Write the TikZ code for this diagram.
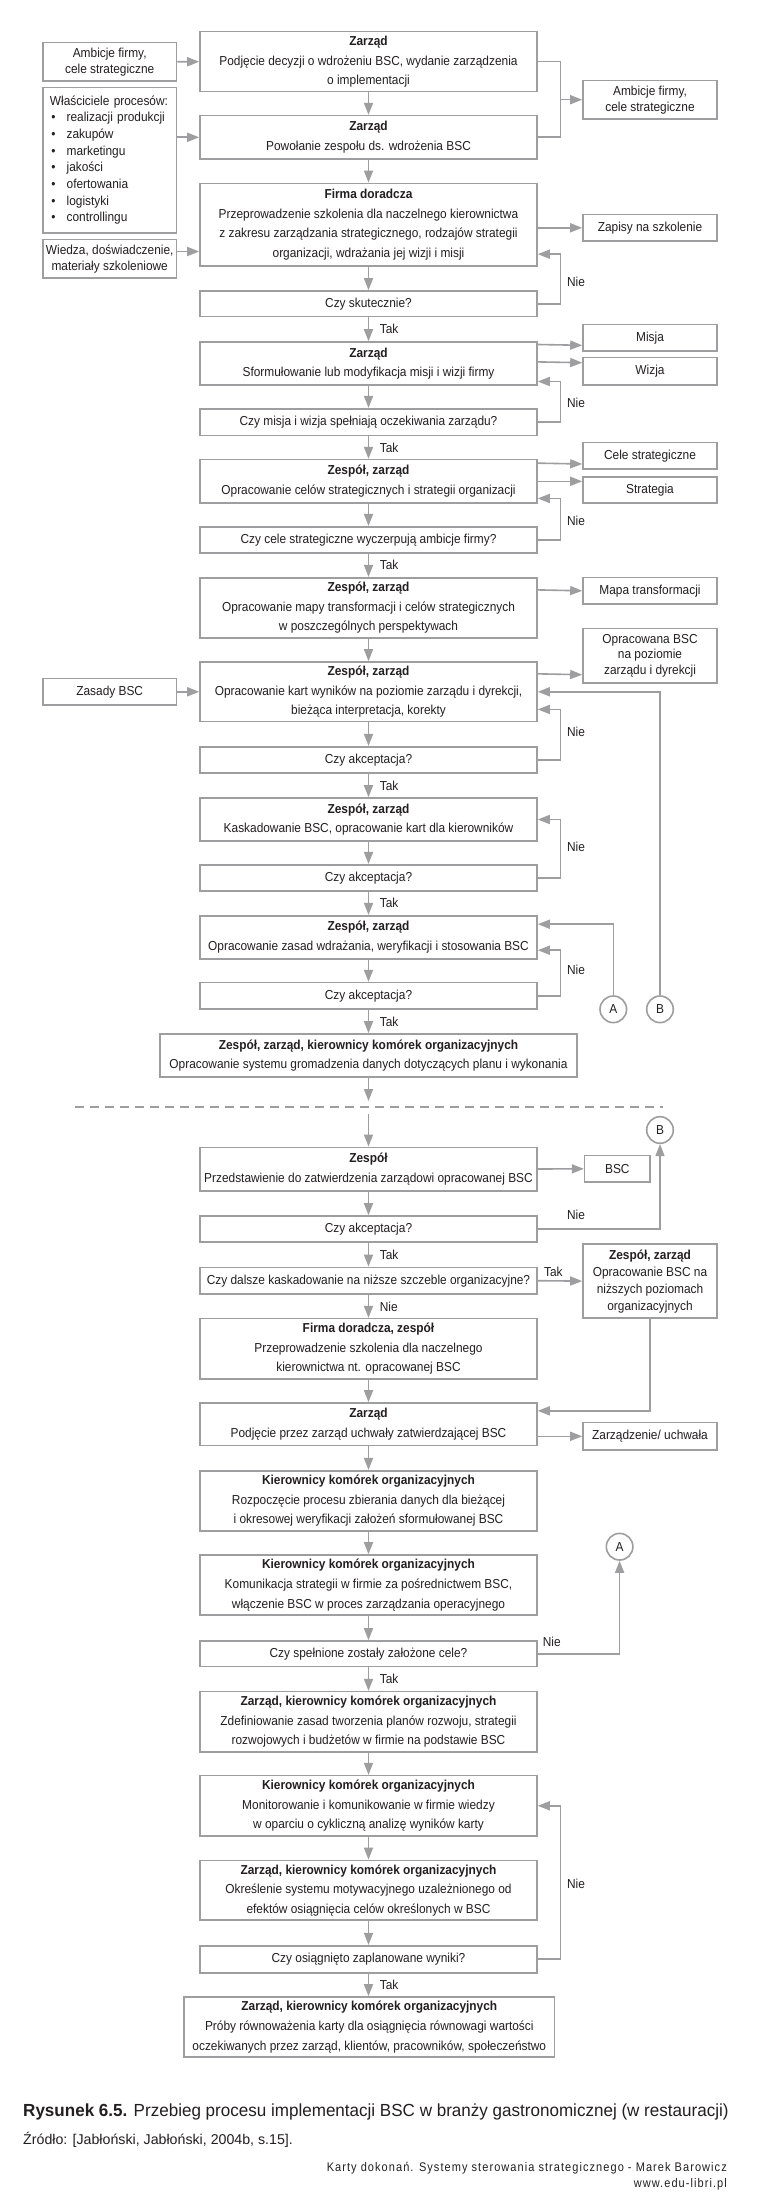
\documentclass[tikz,border=0pt]{standalone}
\usepackage{fontspec}
\setmainfont{Liberation Sans}[FakeStretch=0.915]
\newfontfamily\footfont{Liberation Sans}[FakeStretch=0.88,LetterSpace=8.5]
\newfontfamily\capfont{Liberation Sans}[FakeStretch=0.974]
\newfontfamily\srcfont{Liberation Sans}[FakeStretch=1.0]
\usetikzlibrary{arrows.meta,calc}
\definecolor{lg}{RGB}{158,158,160}
\definecolor{tx}{RGB}{35,31,32}
\begin{document}
\begin{tikzpicture}[x=1pt,y=-1pt,
  box/.style={draw=lg, line width=1.6pt, fill=white, inner sep=0pt, align=center, text=tx, font=\fontsize{13}{19.6}\selectfont},
  mbox/.style={box, minimum width=337pt},
  sbox/.style={box, minimum width=134pt, font=\fontsize{13}{16}\selectfont},
  lboxs/.style={box, minimum width=133.5pt, font=\fontsize{13}{16}\selectfont},
  conn/.style={draw=lg, line width=1.6pt},
  arr/.style={conn, -{Triangle[length=12pt,width=9pt]}},
  lbl/.style={text=tx, font=\fontsize{13}{15}\selectfont, inner sep=0pt},
  circ/.style={circle, draw=lg, line width=1.6pt, fill=white, minimum size=26.6pt, inner sep=0pt, text=tx, font=\fontsize{13}{15}\selectfont},
]
\fill[white] (0,0) rectangle (757,2210);
\useasboundingbox (0,0) rectangle (757,2210);
\coordinate (lx) at (560.5,0);

% ---------- main column ----------
\node[mbox, minimum height=60pt] (n1) at (368.5,61.7) {\textbf{Zarząd}\\Podjęcie decyzji o wdrożeniu BSC, wydanie zarządzenia\\o implementacji};
\node[mbox, minimum height=43.3pt] (n2) at (368.5,137.3) {\textbf{Zarząd}\\Powołanie zespołu ds. wdrożenia BSC};
\node[mbox, minimum height=82.7pt] (n3) at (368.5,224.7) {\textbf{Firma doradcza}\\Przeprowadzenie szkolenia dla naczelnego kierownictwa\\z zakresu zarządzania strategicznego, rodzajów strategii\\organizacji, wdrażania jej wizji i misji};
\node[mbox, minimum height=25.7pt] (q1) at (368.5,303.8) {Czy skutecznie?};
\node[mbox, minimum height=43pt] (n5) at (368.5,363.5) {\textbf{Zarząd}\\Sformułowanie lub modyfikacja misji i wizji firmy};
\node[mbox, minimum height=26.6pt] (q2) at (368.5,422) {Czy misja i wizja spełniają oczekiwania zarządu?};
\node[mbox, minimum height=43.3pt] (n7) at (368.5,481.3) {\textbf{Zespół, zarząd}\\Opracowanie celów strategicznych i strategii organizacji};
\node[mbox, minimum height=26pt] (q3) at (368.5,539.7) {Czy cele strategiczne wyczerpują ambicje firmy?};
\node[mbox, minimum height=60pt] (n9) at (368.5,607.7) {\textbf{Zespół, zarząd}\\Opracowanie mapy transformacji i celów strategicznych\\w poszczególnych perspektywach};
\node[mbox, minimum height=59.7pt] (n10) at (368.5,691.8) {\textbf{Zespół, zarząd}\\Opracowanie kart wyników na poziomie zarządu i dyrekcji,\\bieżąca interpretacja, korekty};
\node[mbox, minimum height=26pt] (q4) at (368.5,759.7) {Czy akceptacja?};
\node[mbox, minimum height=43pt] (n12) at (368.5,819.5) {\textbf{Zespół, zarząd}\\Kaskadowanie BSC, opracowanie kart dla kierowników};
\node[mbox, minimum height=26pt] (q5) at (368.5,877.7) {Czy akceptacja?};
\node[mbox, minimum height=43pt] (n14) at (368.5,937.2) {\textbf{Zespół, zarząd}\\Opracowanie zasad wdrażania, weryfikacji i stosowania BSC};
\node[mbox, minimum height=26.3pt] (q6) at (368.5,995.8) {Czy akceptacja?};
\node[box, minimum width=416.7pt, minimum height=43pt] (n16) at (368.5,1055.5) {\textbf{Zespół, zarząd, kierownicy komórek organizacyjnych}\\Opracowanie systemu gromadzenia danych dotyczących planu i wykonania};

\coordinate (d1) at (368.5,1101);
\coordinate (dl) at (75,1106.7);
\coordinate (dr) at (663,1106.7);
\coordinate (d2) at (368.5,1114);

\node[mbox, minimum height=43.4pt] (n17) at (368.5,1169) {\textbf{Zespół}\\Przedstawienie do zatwierdzenia zarządowi opracowanej BSC};
\node[mbox, minimum height=26pt] (q7) at (368.5,1229) {Czy akceptacja?};
\node[mbox, minimum height=26.7pt] (q8) at (368.5,1280.7) {Czy dalsze kaskadowanie na niższe szczeble organizacyjne?};
\node[mbox, minimum height=60.3pt] (n20) at (368.5,1348.8) {\textbf{Firma doradcza, zespół}\\Przeprowadzenie szkolenia dla naczelnego\\kierownictwa nt. opracowanej BSC};
\node[mbox, minimum height=42.7pt] (n21) at (368.5,1424.3) {\textbf{Zarząd}\\Podjęcie przez zarząd uchwały zatwierdzającej BSC};
\node[mbox, minimum height=60pt] (n22) at (368.5,1500.7) {\textbf{Kierownicy komórek organizacyjnych}\\Rozpoczęcie procesu zbierania danych dla bieżącej\\i okresowej weryfikacji założeń sformułowanej BSC};
\node[mbox, minimum height=60pt] (n23) at (368.5,1585) {\textbf{Kierownicy komórek organizacyjnych}\\Komunikacja strategii w firmie za pośrednictwem BSC,\\włączenie BSC w proces zarządzania operacyjnego};
\node[mbox, minimum height=25.7pt] (q9) at (368.5,1653.8) {Czy spełnione zostały założone cele?};
\node[mbox, minimum height=60.3pt] (n25) at (368.5,1721.8) {\textbf{Zarząd, kierownicy komórek organizacyjnych}\\Zdefiniowanie zasad tworzenia planów rozwoju, strategii\\rozwojowych i budżetów w firmie na podstawie BSC};
\node[mbox, minimum height=60.3pt] (n26) at (368.5,1805.8) {\textbf{Kierownicy komórek organizacyjnych}\\Monitorowanie i komunikowanie w firmie wiedzy\\w oparciu o cykliczną analizę wyników karty};
\node[mbox, minimum height=59.7pt] (n27) at (368.5,1890.2) {\textbf{Zarząd, kierownicy komórek organizacyjnych}\\Określenie systemu motywacyjnego uzależnionego od\\efektów osiągnięcia celów określonych w BSC};
\node[mbox, minimum height=27pt] (q10) at (368.5,1959.2) {Czy osiągnięto zaplanowane wyniki?};
\node[box, minimum width=370.7pt, minimum height=60pt] (n29) at (369.3,2027) {\textbf{Zarząd, kierownicy komórek organizacyjnych}\\Próby równoważenia karty dla osiągnięcia równowagi wartości\\oczekiwanych przez zarząd, klientów, pracowników, społeczeństwo};

% ---------- right boxes ----------
\node[sbox, minimum height=38.7pt] (r1) at (650,99.7) {Ambicje firmy,\\cele strategiczne};
\node[sbox, minimum height=26.3pt] (r2) at (650,227.8) {Zapisy na szkolenie};
\node[sbox, minimum height=26.3pt] (r3) at (650,337.8) {Misja};
\node[sbox, minimum height=27.3pt] (r4) at (650,371.3) {Wizja};
\node[sbox, minimum height=26.3pt] (r5) at (650,455.8) {Cele strategiczne};
\node[sbox, minimum height=26pt] (r6) at (650,490) {Strategia};
\node[sbox, minimum height=26.3pt] (r7) at (650,590.8) {Mapa transformacji};
\node[sbox, minimum height=54.4pt, font=\fontsize{13}{15.5}\selectfont] (r8) at (650,655.5) {Opracowana BSC\\na poziomie\\zarządu i dyrekcji};
\node[sbox, minimum width=65.3pt, minimum height=26.3pt] (r9) at (617.3,1168.8) {BSC};
\node[sbox, minimum height=74.3pt, font=\fontsize{13}{17}\selectfont] (r10) at (650,1281.1) {\textbf{Zespół, zarząd}\\Opracowanie BSC na\\niższych poziomach\\organizacyjnych};
\node[sbox, minimum height=27.3pt] (r11) at (650,1436.3) {Zarządzenie/ uchwała};

% ---------- left boxes ----------
\node[lboxs, minimum height=38.3pt] (l1) at (109.7,61.8) {Ambicje firmy,\\cele strategiczne};
\node[lboxs, minimum height=145pt, text width=119.5pt, inner xsep=7pt, align=left, font=\fontsize{13}{16.67}\selectfont] (l2) at (109.7,160.2) {Właściciele procesów:\\
\hspace*{1.5pt}\makebox[15.2pt][l]{\textbullet}realizacji produkcji\\
\hspace*{1.5pt}\makebox[15.2pt][l]{\textbullet}zakupów\\
\hspace*{1.5pt}\makebox[15.2pt][l]{\textbullet}marketingu\\
\hspace*{1.5pt}\makebox[15.2pt][l]{\textbullet}jakości\\
\hspace*{1.5pt}\makebox[15.2pt][l]{\textbullet}ofertowania\\
\hspace*{1.5pt}\makebox[15.2pt][l]{\textbullet}logistyki\\
\hspace*{1.5pt}\makebox[15.2pt][l]{\textbullet}controllingu};
\node[lboxs, minimum height=38.7pt] (l3) at (109.7,258.7) {Wiedza, doświadczenie,\\materiały szkoleniowe};
\node[lboxs, minimum height=26.3pt] (l4) at (109.7,691.8) {Zasady BSC};

% ---------- connectors circles ----------
\node[circ] (cA1) at (613.3,1009.3) {A};
\node[circ] (cB1) at (660,1009.3) {B};
\node[circ] (cB2) at (660,1130) {B};
\node[circ] (cA2) at (619.6,1546.7) {A};

% ---------- vertical flow ----------
\draw[arr] (n1) -- (n2);
\draw[arr] (n2) -- (n3);
\draw[arr] (n3) -- (q1);
\draw[arr] (q1) -- node[lbl, right=10.5pt] {Tak} (n5);
\draw[arr] (n5) -- (q2);
\draw[arr] (q2) -- node[lbl, right=10.5pt] {Tak} (n7);
\draw[arr] (n7) -- (q3);
\draw[arr] (q3) -- node[lbl, right=10.5pt] {Tak} (n9);
\draw[arr] (n9) -- (n10);
\draw[arr] (n10) -- (q4);
\draw[arr] (q4) -- node[lbl, right=10.5pt] {Tak} (n12);
\draw[arr] (n12) -- (q5);
\draw[arr] (q5) -- node[lbl, right=10.5pt] {Tak} (n14);
\draw[arr] (n14) -- (q6);
\draw[arr] (q6) -- node[lbl, right=10.5pt] {Tak} (n16);
\draw[arr] (n16) -- (d1);
\draw[conn, dash pattern=on 9pt off 6pt] (dl) -- (dr);
\draw[arr] (d2) -- (n17);
\draw[arr] (n17) -- (q7);
\draw[arr] (q7) -- node[lbl, right=10.5pt] {Tak} (q8);
\draw[arr] (q8) -- node[lbl, right=10.5pt] {Nie} (n20);
\draw[arr] (n20) -- (n21);
\draw[arr] (n21) -- (n22);
\draw[arr] (n22) -- (n23);
\draw[arr] (n23) -- (q9);
\draw[arr] (q9) -- node[lbl, right=10.5pt] {Tak} (n25);
\draw[arr] (n25) -- (n26);
\draw[arr] (n26) -- (n27);
\draw[arr] (n27) -- (q10);
\draw[arr] (q10.south) -- node[lbl, right=10.5pt] {Tak} (n29.north -| q10.south);

% ---------- inputs from left ----------
\draw[arr] (l1.east) -- (n1.west);
\draw[arr] (l2.east |- n2.west) -- (n2.west);
\draw[arr] ($(l3.east)+(0,-7.2)$) -- ($(n3.west)+(0,26.8)$);
\draw[arr] (l4.east) -- (n10.west);

% ---------- outputs to right ----------
\draw[conn] (n1.east) -- (lx |- n1.east) |- (n2.east);
\draw[arr] (lx |- r1.west) -- (r1.west);
\draw[arr] (n3.east |- r2.west) -- (r2.west);
\draw[arr] ($(n5.north east)+(0,3.3)$) -- ($(r3.west)+(0,7.5)$);
\draw[arr] ($(n5.north east)+(0,20.7)$) -- ($(r4.west)+(0,-8.6)$);
\draw[arr] ($(n7.north east)+(0,4.3)$) -- ($(r5.west)+(0,8.2)$);
\draw[arr] (n7.east) -- ($(r6.west)+(0,-8.7)$);
\draw[arr] ($(n9.north east)+(0,13)$) -- (r7.west);
\draw[arr] ($(n10.north east)+(0,12.7)$) -- ($(r8.west)+(0,19.2)$);
\draw[arr] (n17.east) -- (r9.west);
\draw[arr] (q8.east) -- node[lbl, above=3pt, pos=0.35] {Tak} (r10.west);
\draw[arr] (n21.east |- r11.west) -- (r11.west);

% ---------- feedback loops ----------
\draw[arr] (q1.east) -- (lx |- q1.east) |- ($(n3.south east)+(0,-12.7)$);
\node[lbl] (nie1) at (576,281.7) {Nie};
\draw[arr] (q2.east) -- (lx |- q2.east) |- ($(n5.south east)+(0,-4.3)$);
\node[lbl] (nie2) at (576,402.7) {Nie};
\draw[arr] (q3.east) -- (lx |- q3.east) |- ($(n7.south east)+(0,-5.3)$);
\node[lbl] (nie3) at (576,520.7) {Nie};
\draw[arr] (q4.east) -- (lx |- q4.east) |- ($(n10.south east)+(0,-13)$);
\node[lbl] (nie4) at (576,731.7) {Nie};
\draw[arr] (q5.east) -- (lx |- q5.east) |- (n12.east);
\node[lbl] (nie5) at (576,846.7) {Nie};
\draw[arr] (q6.east) -- (lx |- q6.east) |- ($(n14.south east)+(0,-9.3)$);
\node[lbl] (nie6) at (576,970) {Nie};
\draw[arr] (cB1.north) |- (n10.east);
\draw[arr] (cA1.north) |- ($(n14.north east)+(0,9.3)$);
\draw[arr] (q7.east) -| (cB2.south);
\node[lbl] (nie7) at (576,1215) {Nie};
\draw[arr] (r10.south) |- ($(n21.north east)+(0,8.7)$);
\draw[arr] (q9.east) -| (cA2.south);
\node[lbl] (nie8) at (551.8,1641.7) {Nie};
\draw[arr] (q10.east) -- (lx |- q10.east) |- (n26.east);
\node[lbl] (nie9) at (576,1884) {Nie};

% ---------- caption ----------
\node[anchor=west, inner sep=0pt, text=tx, font=\capfont\fontsize{17.5}{20}\selectfont] (cap) at (23,2112.3) {\textbf{Rysunek 6.5.} Przebieg procesu implementacji BSC w branży gastronomicznej (w restauracji)};
\node[anchor=west, inner sep=0pt, text=tx, font=\srcfont\fontsize{14.2}{16}\selectfont] (src) at (23,2140) {Źródło: [Jabłoński, Jabłoński, 2004b, s.15].};
\node[anchor=east, inner sep=0pt, text=tx, font=\footfont\fontsize{12.5}{15}\selectfont] (ft1) at (727,2168.3) {Karty dokonań. Systemy sterowania strategicznego - Marek Barowicz};
\node[anchor=east, inner sep=0pt, text=tx, font=\footfont\fontsize{12.5}{15}\selectfont] (ft2) at (727,2184.3) {www.edu-libri.pl};
\end{tikzpicture}
\end{document}
